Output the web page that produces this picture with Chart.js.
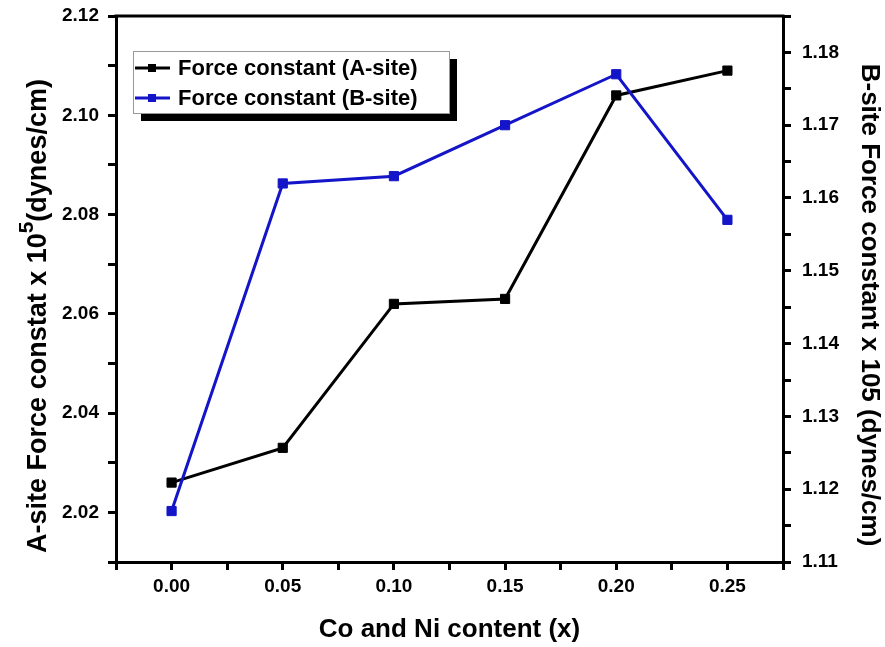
<!DOCTYPE html>
<html>
<head>
<meta charset="utf-8">
<title>Force constant vs Co and Ni content</title>
<script src="https://cdn.jsdelivr.net/npm/chart.js@4.4.0/dist/chart.umd.min.js"></script>
<style>
  html, body { margin: 0; padding: 0; background: #fff; }
  canvas { display: block; }
</style>
</head>
<body>
<canvas id="forceChart" width="885" height="647"></canvas>
<script>
// Co and Ni content (x)
const contents = [0.00, 0.05, 0.10, 0.15, 0.20, 0.25];
// A-site force constant (left axis)
const forceA = [2.026, 2.033, 2.062, 2.063, 2.104, 2.109];
// B-site force constant (right axis)
const forceB = [1.117, 1.162, 1.163, 1.170, 1.177, 1.157];

const seriesNames = ['Force constant (A-site)', 'Force constant (B-site)'];
const xTickLabels = ['0.00', '0.05', '0.10', '0.15', '0.20', '0.25'];
const leftTickLabels = ['2.02', '2.04', '2.06', '2.08', '2.10', '2.12'];
const rightTickLabels = ['1.11', '1.12', '1.13', '1.14', '1.15', '1.16', '1.17', '1.18'];

const FONT = "'Liberation Sans', Arial, sans-serif";
const BLUE = '#1414c8';

// only print the labelled ticks, the rest stay as minor marks
function pickLabel(list) {
  return function (value) {
    const hit = list.find(l => Math.abs(parseFloat(l) - value) < 1e-6);
    return hit === undefined ? '' : hit;
  };
}

// fixed axis width, and no extra room reserved for the end labels
function fixWidth(w) {
  return function (scale) {
    scale.width = w;
    scale.paddingTop = 0;
    scale.paddingBottom = 0;
  };
}

const axisGrid = { drawOnChartArea: false, drawTicks: true, tickLength: 8, lineWidth: 3, color: '#000' };
const axisBorder = { display: true, width: 3, color: '#000' };
const tickFont = { family: FONT, size: 19, weight: 'bold' };

// frame top edge, legend with drop shadow, axis titles
const frameAndLabels = {
  id: 'frameAndLabels',
  afterDraw(chart) {
    const { ctx, chartArea: a } = chart;
    ctx.save();

    ctx.strokeStyle = '#000';
    ctx.lineWidth = 3;
    ctx.beginPath();
    ctx.moveTo(a.left - 1.5, a.top);
    ctx.lineTo(a.right + 1.5, a.top);
    ctx.stroke();

    // legend
    const lx = a.left + 17, ly = a.top + 35, lw = 316, lh = 62;
    ctx.fillStyle = '#000';
    ctx.fillRect(lx + 8, ly + 8, lw, lh);
    ctx.fillStyle = '#fff';
    ctx.fillRect(lx, ly, lw, lh);
    ctx.strokeStyle = '#999';
    ctx.lineWidth = 1;
    ctx.strokeRect(lx + 0.5, ly + 0.5, lw, lh);

    chart.data.datasets.forEach((ds, i) => {
      const ry = ly + 17 + i * 30;
      ctx.strokeStyle = ds.borderColor;
      ctx.lineWidth = 3;
      ctx.beginPath();
      ctx.moveTo(lx + 2, ry);
      ctx.lineTo(lx + 37, ry);
      ctx.stroke();
      ctx.fillStyle = ds.borderColor;
      ctx.fillRect(lx + 15, ry - 4, 8, 8);
      ctx.fillStyle = '#000';
      ctx.font = 'bold 22px ' + FONT;
      ctx.textAlign = 'left';
      ctx.textBaseline = 'middle';
      ctx.fillText(ds.label, lx + 45, ry + 1);
    });

    // x axis title
    ctx.fillStyle = '#000';
    ctx.font = 'bold 26px ' + FONT;
    ctx.textAlign = 'center';
    ctx.textBaseline = 'middle';
    ctx.fillText('Co and Ni content (x)', (a.left + a.right) / 2, a.bottom + 68);

    // left axis title with superscript
    ctx.save();
    ctx.translate(a.left - 80, 316);
    ctx.rotate(-Math.PI / 2);
    const main1 = 'A-site Force constat x 10', sup = '5', main2 = '(dynes/cm)';
    ctx.font = 'bold 27px ' + FONT;
    const w1 = ctx.measureText(main1).width, w2 = ctx.measureText(main2).width;
    ctx.font = 'bold 21px ' + FONT;
    const ws = ctx.measureText(sup).width;
    const sx = -(w1 + ws + w2) / 2;
    ctx.textAlign = 'left';
    ctx.textBaseline = 'alphabetic';
    ctx.font = 'bold 27px ' + FONT;
    ctx.fillText(main1, sx, 10);
    ctx.font = 'bold 21px ' + FONT;
    ctx.fillText(sup, sx + w1, -3);
    ctx.font = 'bold 27px ' + FONT;
    ctx.fillText(main2, sx + w1 + ws, 10);
    ctx.restore();

    // right axis title
    ctx.save();
    ctx.translate(a.right + 86, 305);
    ctx.rotate(Math.PI / 2);
    ctx.font = 'bold 26px ' + FONT;
    ctx.textAlign = 'center';
    ctx.textBaseline = 'middle';
    ctx.fillText('B-site Force constant x 105 (dynes/cm)', 0, 0);
    ctx.restore();

    ctx.restore();
  }
};

const data = {
  datasets: [{
    label: seriesNames[0],
    data: contents.map((x, i) => ({ x: x, y: forceA[i] })),
    yAxisID: 'y',
    borderColor: '#000',
    backgroundColor: '#000',
    borderWidth: 3,
    pointStyle: 'rect',
    pointRadius: 6.5,
    pointBorderWidth: 1,
    order: 1
  }, {
    label: seriesNames[1],
    data: contents.map((x, i) => ({ x: x, y: forceB[i] })),
    yAxisID: 'y1',
    borderColor: BLUE,
    backgroundColor: BLUE,
    borderWidth: 3,
    pointStyle: 'rect',
    pointRadius: 6.5,
    pointBorderWidth: 1,
    order: 0
  }]
};

const config = {
  type: 'line',
  data: data,
  options: {
    responsive: false,
    animation: false,
    layout: { padding: { top: 16, left: 0, right: 0, bottom: 0 } },
    plugins: {
      legend: { display: false },
      tooltip: { enabled: false }
    },
    scales: {
      x: {
        type: 'linear',
        min: -0.025,
        max: 0.275,
        grid: axisGrid,
        border: axisBorder,
        ticks: {
          stepSize: 0.025,
          autoSkip: false,
          maxRotation: 0,
          padding: 5,
          color: '#000',
          font: tickFont,
          callback: pickLabel(xTickLabels)
        },
        afterFit(scale) { scale.height = 85; }
      },
      y: {
        position: 'left',
        min: 2.01,
        max: 2.12,
        grid: axisGrid,
        border: axisBorder,
        ticks: {
          stepSize: 0.01,
          autoSkip: false,
          padding: 9,
          color: '#000',
          font: tickFont,
          callback: pickLabel(leftTickLabels)
        },
        afterFit: fixWidth(116)
      },
      y1: {
        position: 'right',
        min: 1.11,
        max: 1.185,
        grid: axisGrid,
        border: axisBorder,
        ticks: {
          stepSize: 0.005,
          autoSkip: false,
          padding: 11,
          color: '#000',
          font: tickFont,
          callback: pickLabel(rightTickLabels)
        },
        afterFit: fixWidth(102)
      }
    }
  },
  plugins: [frameAndLabels]
};

const ctx = document.getElementById('forceChart').getContext('2d');
new Chart(ctx, config);
</script>
</body>
</html>
